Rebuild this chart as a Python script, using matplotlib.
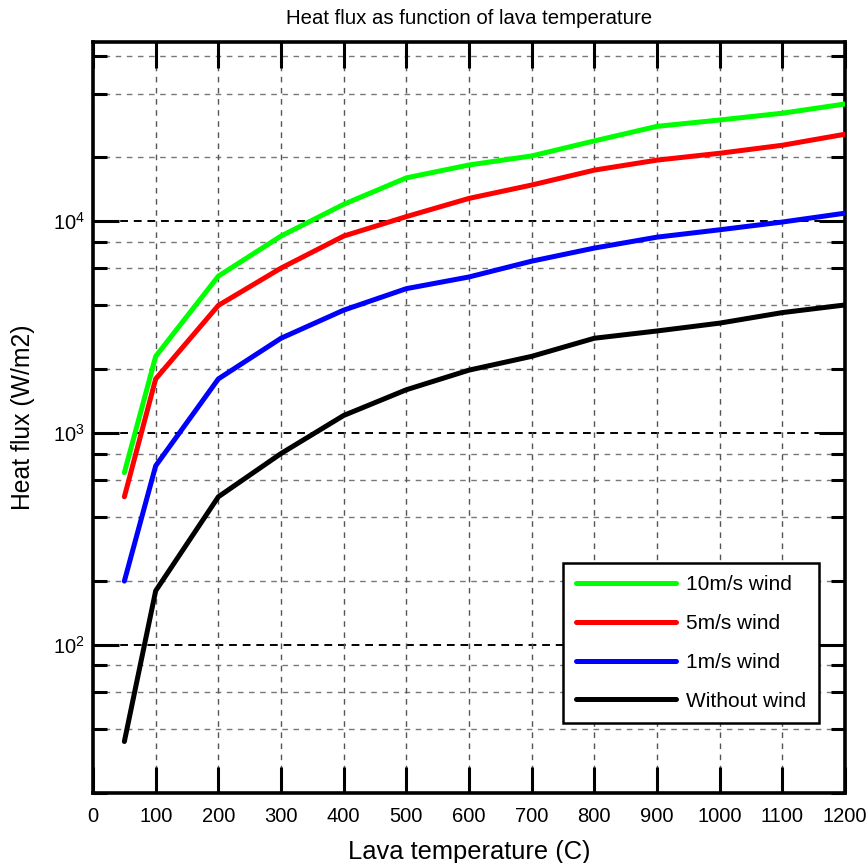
import matplotlib
matplotlib.use("Agg")
import matplotlib.pyplot as plt
from matplotlib.ticker import LogLocator, FixedLocator, NullFormatter, LogFormatterMathtext

plt.rcParams['font.family'] = ['Liberation Sans', 'DejaVu Sans']
plt.rcParams['mathtext.fontset'] = 'custom'
plt.rcParams['mathtext.rm'] = 'Liberation Sans'

temperature = [50, 100, 200, 300, 400, 500, 600, 700, 800, 900, 1000, 1100, 1200]
flux_10ms = [650, 2300, 5500, 8500, 12000, 16000, 18400, 20300, 23900, 28000, 30000, 32300, 35700]
flux_5ms = [500, 1800, 4000, 6000, 8500, 10500, 12800, 14800, 17400, 19400, 20900, 22800, 25700]
flux_1ms = [200, 700, 1800, 2800, 3800, 4800, 5450, 6470, 7460, 8400, 9100, 9900, 10900]
flux_nowind = [35, 180, 500, 800, 1210, 1600, 1980, 2300, 2800, 3030, 3300, 3700, 4020]
labels = ['10m/s wind', '5m/s wind', '1m/s wind', 'Without wind']
colors = ['#00ff00', '#ff0000', '#0000ff', '#000000']

fig = plt.figure(figsize=(8.67, 8.63), dpi=100)
ax = fig.add_axes([0.1073, 0.0811, 0.8673, 0.8702])

for ys, lab, col in zip([flux_10ms, flux_5ms, flux_1ms, flux_nowind], labels, colors):
    ax.plot(temperature, ys, color=col, lw=3.6, label=lab, solid_capstyle='round', zorder=3)

ax.set_yscale('log')
ax.set_xlim(0, 1200)
ax.set_ylim(20, 7e4)

ax.xaxis.set_major_locator(FixedLocator(range(0, 1201, 100)))
ax.yaxis.set_major_locator(LogLocator(base=10, numticks=10))
ax.yaxis.set_minor_locator(LogLocator(base=10, subs=[2, 4, 6, 8], numticks=20))
ax.yaxis.set_major_formatter(LogFormatterMathtext())
ax.yaxis.set_minor_formatter(NullFormatter())

# grid
for v in [100, 1000, 10000]:
    ax.axhline(v, color='black', lw=1.4, ls=(0, (4, 3)), zorder=1)
for dec in [10, 100, 1000, 10000]:
    for s in [2, 4, 6, 8]:
        v = dec * s
        if 20 < v < 7e4:
            ax.axhline(v, color='#777777', lw=1.0, ls=(0, (4, 4)), zorder=1)
for x in range(100, 1200, 100):
    ax.axvline(x, color='#555555', lw=1.0, ls=(0, (4, 4)), zorder=1)

ax.tick_params(axis='both', which='both', direction='in', top=True, right=True,
               labelsize=14.5, width=2.2)
ax.tick_params(axis='x', which='major', length=19, pad=10)
ax.tick_params(axis='y', which='major', length=19, pad=6)
ax.tick_params(axis='y', which='minor', length=10)
for sp in ax.spines.values():
    sp.set_linewidth(2.6)

ax.set_title('Heat flux as function of lava temperature', fontsize=14.7, pad=13)
ax.set_xlabel('Lava temperature (C)', fontsize=18.4, labelpad=10)
ax.set_ylabel('Heat flux (W/m2)', fontsize=17.8, labelpad=13)

leg = ax.legend(loc='lower right', bbox_to_anchor=(0.9655, 0.093), fontsize=15,
                fancybox=False, framealpha=1, edgecolor='black', handlelength=4.8,
                handletextpad=0.5, labelspacing=0.95, borderpad=0.6,
                borderaxespad=0)
leg.get_frame().set_linewidth(1.8)

fig.savefig('out.png', dpi=100)
